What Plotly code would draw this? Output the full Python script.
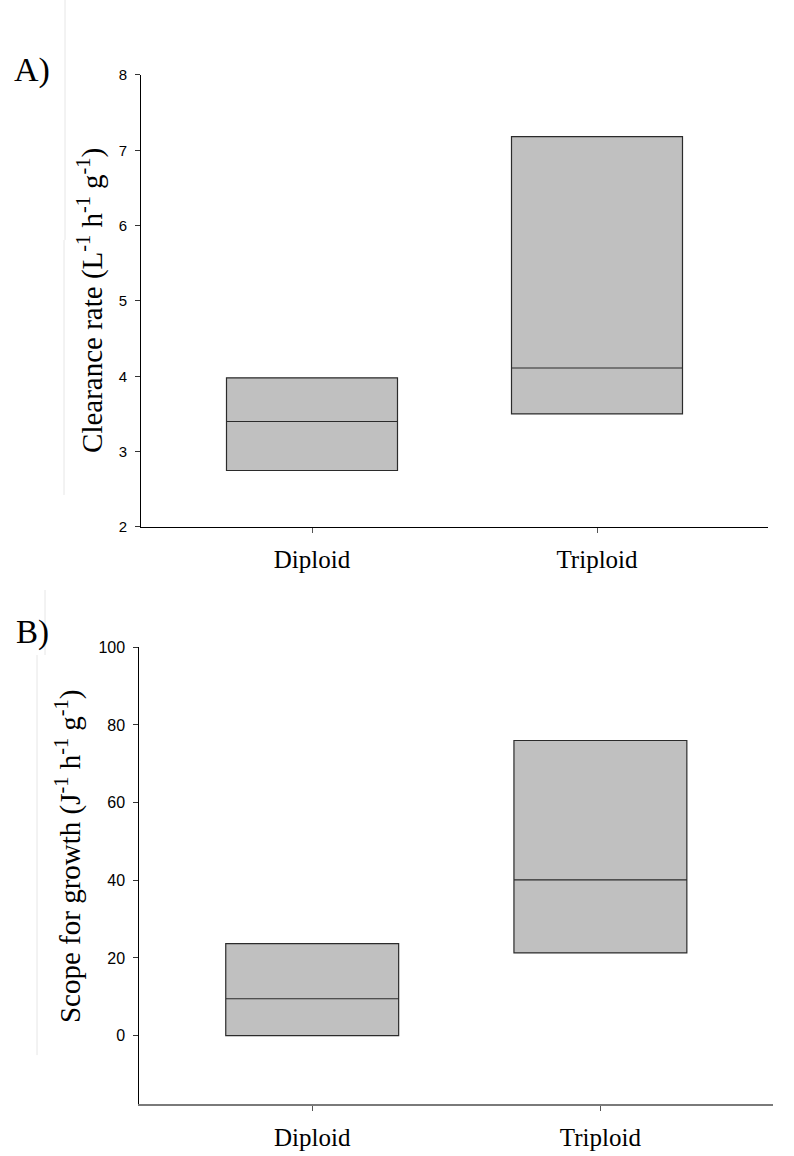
import plotly.graph_objects as go

W, H = 794, 1156

categories = ["Diploid", "Triploid"]

# Panel A: clearance rate box statistics
a_q1 = [2.75, 3.50]
a_median = [3.40, 4.11]
a_q3 = [3.98, 7.18]

# Panel B: scope for growth box statistics
b_q1 = [0.0, 21.3]
b_median = [9.5, 40.1]
b_q3 = [23.7, 76.0]

a_yticks = [2, 3, 4, 5, 6, 7, 8]
b_yticks = [0, 20, 40, 60, 80, 100]

FILL = "#C0C0C0"
EDGE = "#2b2b2b"
SERIF = "Liberation Serif, Times New Roman, serif"
SANS = "Liberation Sans, Arial, sans-serif"


def px_x(p):
    return p / W


def px_y(p):
    # paper coordinate for a target pixel row (compensates observed vertical mapping)
    return 1 - (p - 9.1) / 1138.8


fig = go.Figure()

fig.add_trace(go.Box(
    x=categories, q1=a_q1, median=a_median, q3=a_q3,
    lowerfence=a_q1, upperfence=a_q3,
    width=0.6, whiskerwidth=0, fillcolor=FILL,
    line=dict(color=EDGE, width=1.2),
    boxpoints=False, xaxis="x", yaxis="y", showlegend=False,
))
fig.add_trace(go.Box(
    x=categories, q1=b_q1, median=b_median, q3=b_q3,
    lowerfence=b_q1, upperfence=b_q3,
    width=0.6, whiskerwidth=0, fillcolor=FILL,
    line=dict(color=EDGE, width=1.2),
    boxpoints=False, xaxis="x2", yaxis="y2", showlegend=False,
))

common_x = dict(
    type="category", range=[-0.6, 1.6], showgrid=False, zeroline=False,
    showline=True, ticks="outside", ticklen=5, tickwidth=1, tickcolor="#555",
    tickfont=dict(family=SERIF, size=25, color="black"),
    ticklabelstandoff=5,
)
common_y = dict(
    showgrid=False, zeroline=False, showline=True, linecolor="black", linewidth=1,
    ticks="outside", ticklen=5, tickwidth=1, tickcolor="#333",
    ticklabelstandoff=5,
)

fig.update_layout(
    width=W, height=H,
    margin=dict(l=0, r=0, t=0, b=0),
    paper_bgcolor="white", plot_bgcolor="white",
    xaxis=dict(domain=[px_x(141), px_x(768)], anchor="y",
               linecolor="black", linewidth=1, **common_x),
    yaxis=dict(domain=[px_y(527), px_y(75)], anchor="x", range=[2, 8],
               tickvals=a_yticks, tickfont=dict(family=SANS, size=15, color="black"),
               **common_y),
    xaxis2=dict(domain=[px_x(139.3), px_x(773.3)], anchor="y2",
                linecolor="#7a7a7a", linewidth=2, **common_x),
    yaxis2=dict(domain=[px_y(1104.3), px_y(647.3)], anchor="x2", range=[-17.7, 100],
                tickvals=b_yticks, tickfont=dict(family=SANS, size=16, color="black"),
                **common_y),
)

annotations = [
    dict(text="A)", x=px_x(32), y=px_y(70), font=dict(family=SERIF, size=34, color="black")),
    dict(text="B)", x=px_x(32), y=px_y(632), font=dict(family=SERIF, size=33, color="black")),
    dict(text="Clearance rate (L<sup>-1</sup> h<sup>-1</sup> g<sup>-1</sup>)",
         x=px_x(91), y=px_y(301), textangle=-90,
         font=dict(family=SERIF, size=29, color="black")),
    dict(text="Scope for growth (J<sup>-1</sup> h<sup>-1</sup> g<sup>-1</sup>)",
         x=px_x(68), y=px_y(857), textangle=-90,
         font=dict(family=SERIF, size=29, color="black")),
]
for a in annotations:
    a.update(xref="paper", yref="paper", xanchor="center", yanchor="middle", showarrow=False)
fig.update_layout(annotations=annotations)

# faint scan-edge lines seen in the reference
shapes = [
    dict(type="line", x0=px_x(65), x1=px_x(65), y0=px_y(0), y1=px_y(240)),
    dict(type="line", x0=px_x(64), x1=px_x(64), y0=px_y(240), y1=px_y(495)),
    dict(type="line", x0=px_x(45), x1=px_x(45), y0=px_y(590), y1=px_y(655)),
    dict(type="line", x0=px_x(37), x1=px_x(37), y0=px_y(655), y1=px_y(1055)),
]
for s in shapes:
    s.update(xref="paper", yref="paper", line=dict(color="#e6e6e6", width=1))
fig.update_layout(shapes=shapes)

fig.write_html("out.html")
